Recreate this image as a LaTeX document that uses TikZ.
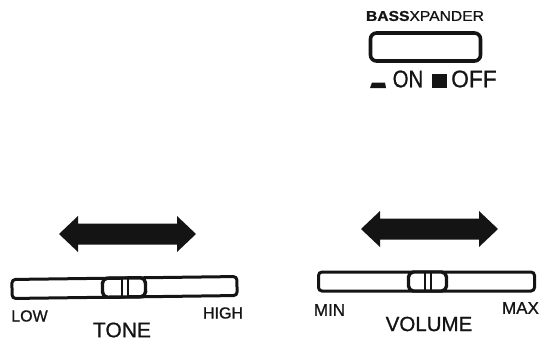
\documentclass[tikz,border=0pt]{standalone}
\usepackage{fontspec}
\setmainfont[FakeBold=0.9]{Liberation Sans}
\tikzset{
  ink/.style={black!92},
  track/.style={draw=black!92,fill=white,line width=3pt,rounded corners=3.5pt,minimum height=19pt,inner sep=0pt},
  knob/.style={draw=black!92,fill=white,line width=3.4pt,rounded corners=5pt,minimum height=19pt,inner sep=0pt},
  btn/.style={draw=black!92,fill=white,line width=3.6pt,rounded corners=6pt,inner sep=0pt},
  lab/.style={inner sep=0pt,text=black!92},
}
\newcommand{\dblarrow}[3]{% left tip x, right tip x, centre y
  \fill[ink] (#1,#3) -- (#1+19,#3-18) -- (#1+19,#3-10.5) -- (#2-19,#3-10.5) -- (#2-19,#3-18)
     -- (#2,#3) -- (#2-19,#3+18) -- (#2-19,#3+10.5) -- (#1+19,#3+10.5) -- (#1+19,#3+18) -- cycle;}
\begin{document}
\begin{tikzpicture}[x=1pt,y=-1pt]
\useasboundingbox (0,0) rectangle (539,341);
% bass xpander
\node[lab,font=\fontsize{14}{14}\selectfont] (bass) at (425,16) {\resizebox{118pt}{10pt}{\textbf{BASS}XPANDER}};
\node[btn,minimum width=110pt,minimum height=28pt] (button) at (425.5,47) {};
\fill[ink] (370,88) -- (372,82.5) -- (385,82.5) -- (386,88) -- cycle;
\node[lab,font=\fontsize{24}{24}\selectfont] (on) at (408,79) {\scalebox{0.85}[1]{ON}};
\fill[ink] (432,74) rectangle (447,88);
\node[lab,font=\fontsize{24}{24}\selectfont,anchor=west] (off) at (451,79) {\scalebox{0.95}[1]{OFF}};
% tone
\dblarrow{59}{196}{234}
\node[track,minimum width=225pt,rotate=0.75] (tonetrack) at (124.5,287.5) {};
\node[knob,minimum width=43pt,rotate=0.75] (toneknob) at (124,287.5) {};
\draw[ink,line width=1.1pt] (122,279) -- (122,297) (128,279) -- (128,297);
\node[lab,font=\fontsize{16}{16}\selectfont] (low) at (29.5,316) {LOW};
\node[lab,font=\fontsize{16}{16}\selectfont] (high) at (223,313) {HIGH};
\node[lab,font=\fontsize{21}{21}\selectfont] (tone) at (122,330) {TONE};
% volume
\dblarrow{361}{498}{229}
\node[track,minimum width=216pt] (voltrack) at (426.5,281.5) {};
\node[knob,minimum width=38pt] (volknob) at (427.5,281.5) {};
\draw[ink,line width=1.1pt] (425,272) -- (425,291) (431,272) -- (431,291);
\node[lab,font=\fontsize{17}{17}\selectfont] (min) at (329.5,310) {MIN};
\node[lab,font=\fontsize{17}{17}\selectfont] (max) at (520.5,308) {MAX};
\node[lab,font=\fontsize{20.5}{20.5}\selectfont] (volume) at (429,324) {VOLUME};
\end{tikzpicture}
\end{document}
